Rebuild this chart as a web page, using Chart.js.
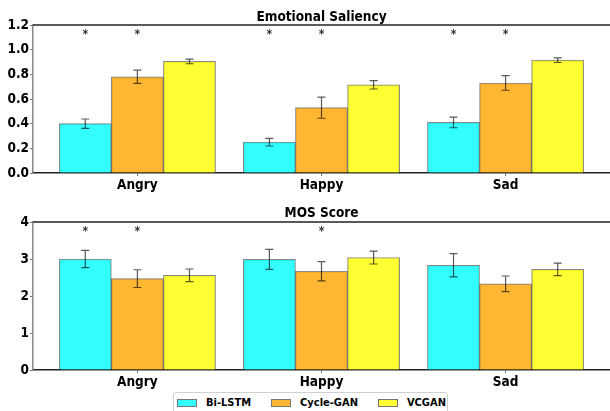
<!DOCTYPE html>
<html lang="en">
<head>
    <meta charset="UTF-8">
    <title>Emotional Saliency / MOS Score</title>
    <script src="https://cdn.jsdelivr.net/npm/chart.js"></script>
    <style>
        body { margin: 0; background: #fff; font-family: "DejaVu Sans Condensed", "DejaVu Sans", sans-serif; }
        #wrap { position: relative; width: 610px; height: 411px; overflow: hidden; }
        .panel { position: absolute; left: 0; width: 610px; }
        #topPanel { top: 0; height: 200px; }
        #bottomPanel { top: 200px; height: 211px; }

        #legend {
            position: absolute;
            left: 173px;
            top: 392px;
            width: 275px;
            height: 26px;
            border: 1px solid #d0d0d0;
            border-radius: 3px;
            background: #fff;
            display: flex;
            align-items: flex-start;
            padding-top: 2px;
            box-sizing: border-box;
            white-space: nowrap;
        }
        .item { display: flex; align-items: center; flex-shrink: 0; font-weight: bold; font-size: 11px; line-height: 16px; color: #000; }
        .swatch { width: 20px; height: 8px; border: 1px solid #777; box-sizing: border-box; margin: 0 9px 0 3px; }
    </style>
</head>
<body>

<div id="wrap">
    <div class="panel" id="topPanel"><canvas id="salChart"></canvas></div>
    <div class="panel" id="bottomPanel"><canvas id="mosChart"></canvas></div>
    <div id="legend"></div>
</div>

<script>
// categories and series
const categories = ['Angry', 'Happy', 'Sad'];
const seriesNames = ['Bi-LSTM', 'Cycle-GAN', 'VCGAN'];

// Emotional Saliency (means and error bars)
const salBiLSTM = [0.40, 0.25, 0.41];
const salCycleGAN = [0.78, 0.53, 0.73];
const salVCGAN = [0.905, 0.715, 0.915];
const salErrBiLSTM = [0.038, 0.031, 0.043];
const salErrCycleGAN = [0.054, 0.086, 0.059];
const salErrVCGAN = [0.019, 0.034, 0.019];
const salStarBiLSTM = [true, true, true];
const salStarCycleGAN = [true, true, true];
const salStarVCGAN = [false, false, false];
const salTicks = [0, 0.2, 0.4, 0.6, 0.8, 1.0, 1.2];

// MOS Score (means and error bars)
const mosBiLSTM = [3.00, 2.99, 2.83];
const mosCycleGAN = [2.47, 2.67, 2.33];
const mosVCGAN = [2.56, 3.04, 2.72];
const mosErrBiLSTM = [0.235, 0.27, 0.315];
const mosErrCycleGAN = [0.24, 0.26, 0.21];
const mosErrVCGAN = [0.17, 0.175, 0.17];
const mosStarBiLSTM = [true, false, false];
const mosStarCycleGAN = [true, true, false];
const mosStarVCGAN = [false, false, false];
const mosTicks = [0, 1, 2, 3, 4];

// styling
const colors = ['rgba(0,255,255,0.8)', 'rgba(255,165,0,0.8)', 'rgba(255,255,0,0.8)'];
const FONT = '"DejaVu Sans Condensed", "DejaVu Sans", sans-serif';
const BAR_W = 0.283;        // bar width in category units
const X_PAD = 0.1425;       // matplotlib-like 5% margin

// draws error bars, significance stars, panel title and the top spine
const extrasPlugin = {
    id: 'extras',
    afterDatasetsDraw(chart) {
        const ctx = chart.ctx;
        const yScale = chart.scales.y;
        const area = chart.chartArea;
        ctx.save();

        chart.data.datasets.forEach((ds, di) => {
            const meta = chart.getDatasetMeta(di);
            meta.data.forEach((bar, i) => {
                const v = ds.data[i].y;
                const e = ds.errors[i];
                const yTop = yScale.getPixelForValue(v + e);
                const yBot = yScale.getPixelForValue(v - e);
                ctx.strokeStyle = 'rgba(0,0,0,0.65)';
                ctx.lineWidth = 1.2;
                ctx.beginPath();
                ctx.moveTo(bar.x, yTop); ctx.lineTo(bar.x, yBot);
                ctx.moveTo(bar.x - 4, yTop); ctx.lineTo(bar.x + 4, yTop);
                ctx.moveTo(bar.x - 4, yBot); ctx.lineTo(bar.x + 4, yBot);
                ctx.stroke();

                if (ds.stars[i]) {
                    ctx.fillStyle = '#333';
                    ctx.font = 'bold 12px ' + FONT;
                    ctx.textAlign = 'center';
                    ctx.textBaseline = 'middle';
                    ctx.fillText('*', bar.x, yScale.getPixelForValue(yScale.max * 0.94) + 1);
                }
            });
        });

        // top spine
        ctx.strokeStyle = '#222';
        ctx.lineWidth = 1.5;
        ctx.beginPath();
        ctx.moveTo(area.left, area.top);
        ctx.lineTo(area.right, area.top);
        ctx.stroke();

        // title
        const t = chart.options.plugins.extras;
        ctx.fillStyle = '#000';
        ctx.font = 'bold 13.5px ' + FONT;
        ctx.textAlign = 'center';
        ctx.textBaseline = 'alphabetic';
        ctx.fillText(t.title, (area.left + area.right) / 2, t.titleY);
        ctx.restore();
    }
};

function makeChart(canvasId, title, titleY, values, errors, stars, yTicks, padTop, xAxisHeight) {
    const datasets = seriesNames.map((name, s) => ({
        label: name,
        data: categories.map((c, i) => ({ x: i + (s - 1) * BAR_W, y: values[s][i] })),
        errors: errors[s],
        stars: stars[s],
        backgroundColor: colors[s],
        borderColor: 'rgba(40,40,40,0.55)',
        borderWidth: 1,
        borderSkipped: 'start'
    }));

    return new Chart(document.getElementById(canvasId), {
        type: 'bar',
        data: { datasets },
        plugins: [extrasPlugin],
        options: {
            responsive: true,
            maintainAspectRatio: false,
            animation: false,
            grouped: false,
            barPercentage: 1,
            categoryPercentage: 1,
            layout: { padding: { top: padTop, right: 0, left: 0, bottom: 0 } },
            plugins: {
                legend: { display: false },
                tooltip: { enabled: false },
                extras: { title, titleY }
            },
            scales: {
                x: {
                    type: 'linear',
                    offset: false,
                    min: -1.5 * BAR_W - X_PAD,
                    max: 2 + 1.5 * BAR_W + X_PAD,
                    afterBuildTicks: (scale) => { scale.ticks = categories.map((c, i) => ({ value: i })); },
                    afterFit: (scale) => { scale.height = xAxisHeight; },
                    ticks: {
                        callback: (v) => categories[v],
                        font: { family: FONT, size: 13.5, weight: 'bold' },
                        color: '#000',
                        maxRotation: 0,
                        padding: 1
                    },
                    grid: { offset: false, drawOnChartArea: false, drawTicks: true, tickLength: 3, color: '#777' },
                    border: { display: true, color: '#222', width: 1.5 }
                },
                y: {
                    min: yTicks[0],
                    max: yTicks[yTicks.length - 1],
                    afterBuildTicks: (scale) => { scale.ticks = yTicks.map(v => ({ value: v })); },
                    afterFit: (scale) => { scale.width = 33; },
                    ticks: {
                        callback: (v) => (yTicks[1] < 1 ? v.toFixed(1) : String(v)),
                        font: { family: FONT, size: 13.5, weight: 'bold' },
                        color: '#000',
                        padding: 1
                    },
                    grid: { drawOnChartArea: false, drawTicks: true, tickLength: 3, color: '#777' },
                    border: { display: true, color: '#888', width: 1.5 }
                }
            }
        }
    });
}

makeChart('salChart', 'Emotional Saliency', 21,
    [salBiLSTM, salCycleGAN, salVCGAN],
    [salErrBiLSTM, salErrCycleGAN, salErrVCGAN],
    [salStarBiLSTM, salStarCycleGAN, salStarVCGAN],
    salTicks, 25, 27);

makeChart('mosChart', 'MOS Score', 17,
    [mosBiLSTM, mosCycleGAN, mosVCGAN],
    [mosErrBiLSTM, mosErrCycleGAN, mosErrVCGAN],
    [mosStarBiLSTM, mosStarCycleGAN, mosStarVCGAN],
    mosTicks, 22, 41);

// legend built from the series list
const legend = document.getElementById('legend');
seriesNames.forEach((name, s) => {
    const item = document.createElement('div');
    item.className = 'item';
    const sw = document.createElement('span');
    sw.className = 'swatch';
    sw.style.background = colors[s];
    sw.style.marginLeft = s === 0 ? '3px' : '20px';
    item.appendChild(sw);
    item.appendChild(document.createTextNode(name));
    legend.appendChild(item);
});
</script>

</body>
</html>
